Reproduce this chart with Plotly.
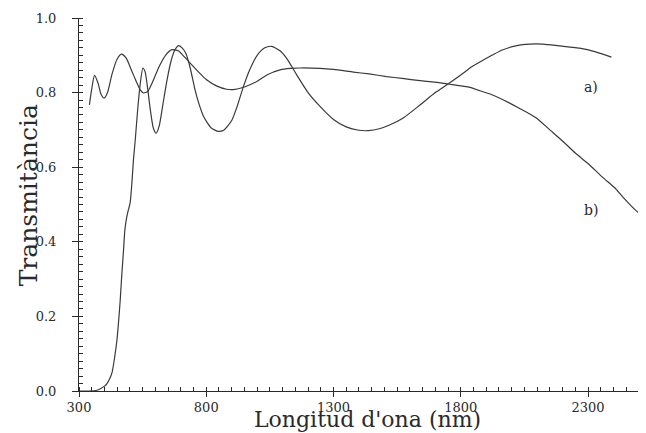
import plotly.graph_objects as go

# Curve a) : oscillating transmittance, starts at 0 (absorption edge)
wl_a = [300, 340, 370, 384, 400, 410, 420, 430, 440, 449, 456, 462, 468, 475, 480, 486, 492,
        501, 508, 514, 521, 530, 540, 551, 560, 570, 580, 592, 603, 615, 630, 645, 660, 675,
        691, 705, 720, 737, 755, 769, 790, 820, 848, 870, 900, 920, 946, 970, 1000, 1030,
        1057, 1090, 1120, 1155, 1200, 1247, 1300, 1350, 1400, 1437, 1480, 1520, 1574, 1640,
        1700, 1750, 1800, 1836, 1875, 1930, 1966, 2020, 2070, 2123, 2180, 2230, 2267, 2330, 2392]
t_a = [0.0, 0.0, 0.002, 0.006, 0.013, 0.02, 0.032, 0.05, 0.09, 0.136, 0.19, 0.244, 0.31, 0.378,
       0.43, 0.46, 0.48, 0.505, 0.56, 0.62, 0.673, 0.75, 0.82, 0.866, 0.855, 0.81, 0.755, 0.705,
       0.691, 0.71, 0.77, 0.83, 0.88, 0.912, 0.926, 0.92, 0.905, 0.866, 0.81, 0.775, 0.735,
       0.705, 0.696, 0.70, 0.725, 0.76, 0.816, 0.86, 0.90, 0.92, 0.924, 0.912, 0.888, 0.848,
       0.80, 0.763, 0.728, 0.708, 0.699, 0.698, 0.703, 0.713, 0.732, 0.767, 0.80, 0.823, 0.847,
       0.866, 0.882, 0.903, 0.915, 0.926, 0.930, 0.930, 0.926, 0.922, 0.919, 0.909, 0.895]

# Curve b) : smooth curve, damped fringes, falling at long wavelengths
wl_b = [341, 350, 361, 375, 387, 399, 412, 430, 450, 467, 485, 505, 525, 540, 553, 570, 590,
        615, 640, 665, 690, 715, 737, 770, 800, 840, 880, 907, 950, 999, 1040, 1090, 1130,
        1168, 1247, 1300, 1378, 1440, 1509, 1570, 1640, 1700, 1750, 1836, 1875, 1920, 1966,
        2030, 2097, 2150, 2202, 2250, 2300, 2359, 2405, 2437, 2490, 2526]
t_b = [0.767, 0.81, 0.846, 0.825, 0.795, 0.785, 0.80, 0.85, 0.89, 0.903, 0.893, 0.862, 0.83,
       0.808, 0.799, 0.803, 0.83, 0.87, 0.90, 0.915, 0.912, 0.895, 0.879, 0.855, 0.835, 0.818,
       0.809, 0.808, 0.815, 0.830, 0.848, 0.861, 0.865, 0.866, 0.865, 0.862, 0.855, 0.85,
       0.843, 0.838, 0.832, 0.828, 0.823, 0.814, 0.805, 0.795, 0.781, 0.758, 0.732, 0.70,
       0.669, 0.638, 0.61, 0.572, 0.545, 0.52, 0.483, 0.465]

labels = ["a)", "b)"]
label_pos_x = [2313, 2313]
label_pos_y = [0.816, 0.485]

x_ticks = [300, 800, 1300, 1800, 2300]
y_ticks = [0.0, 0.2, 0.4, 0.6, 0.8, 1.0]

FONT = "DejaVu Serif"
INK = "#2a2a2a"

fig = go.Figure()
fig.add_trace(go.Scatter(x=wl_a, y=t_a, mode="lines", line=dict(color="#3a3a3a", width=1.2, shape="spline", smoothing=0.6), name="a)", showlegend=False))
fig.add_trace(go.Scatter(x=wl_b, y=t_b, mode="lines", line=dict(color="#3a3a3a", width=1.2, shape="spline", smoothing=0.6), name="b)", showlegend=False, cliponaxis=False))

for lab, lx, ly in zip(labels, label_pos_x, label_pos_y):
    fig.add_annotation(x=lx, y=ly, text=lab, showarrow=False, xref="x", yref="y",
                       font=dict(family=FONT, size=14, color=INK))

fig.add_annotation(x=0.51, y=-0.077, xref="paper", yref="paper", text="Longitud d'ona (nm)",
                   showarrow=False, font=dict(family=FONT, size=22, color=INK),
                   xanchor="center", yanchor="middle")
fig.add_annotation(x=-0.09, y=0.525, xref="paper", yref="paper", text="Transmitància",
                   textangle=-90, showarrow=False, font=dict(family=FONT, size=25, color=INK),
                   xanchor="center", yanchor="middle")

fig.update_xaxes(range=[300, 2520], tickvals=x_ticks, ticktext=[str(v) for v in x_ticks],
                 showline=True, linecolor=INK, linewidth=1, showgrid=False, zeroline=False,
                 ticks="outside", ticklen=5, tickcolor=INK, tickwidth=1, ticklabelstandoff=-1,
                 tickfont=dict(family=FONT, size=13, color=INK),
                 minor=dict(ticks="inside", ticklen=4, dtick=50, tick0=300, tickcolor=INK, showgrid=False))
fig.update_yaxes(range=[0, 1.0], tickvals=y_ticks, ticktext=["%.1f" % v for v in y_ticks],
                 showline=True, linecolor=INK, linewidth=1, showgrid=False, zeroline=False,
                 ticks="outside", ticklen=6, tickcolor=INK, tickwidth=1, ticklabelstandoff=13,
                 tickfont=dict(family=FONT, size=13, color=INK),
                 minor=dict(ticks="inside", ticklen=4, dtick=0.02, tick0=0, tickcolor=INK, showgrid=False))

# The page body has an 8px default margin, so the figure is sized to fit the window after it.
fig.update_layout(width=638, height=425, margin=dict(l=71, r=2, t=10, b=42),
                  plot_bgcolor="white", paper_bgcolor="white", showlegend=False)

fig.write_html("out.html")
